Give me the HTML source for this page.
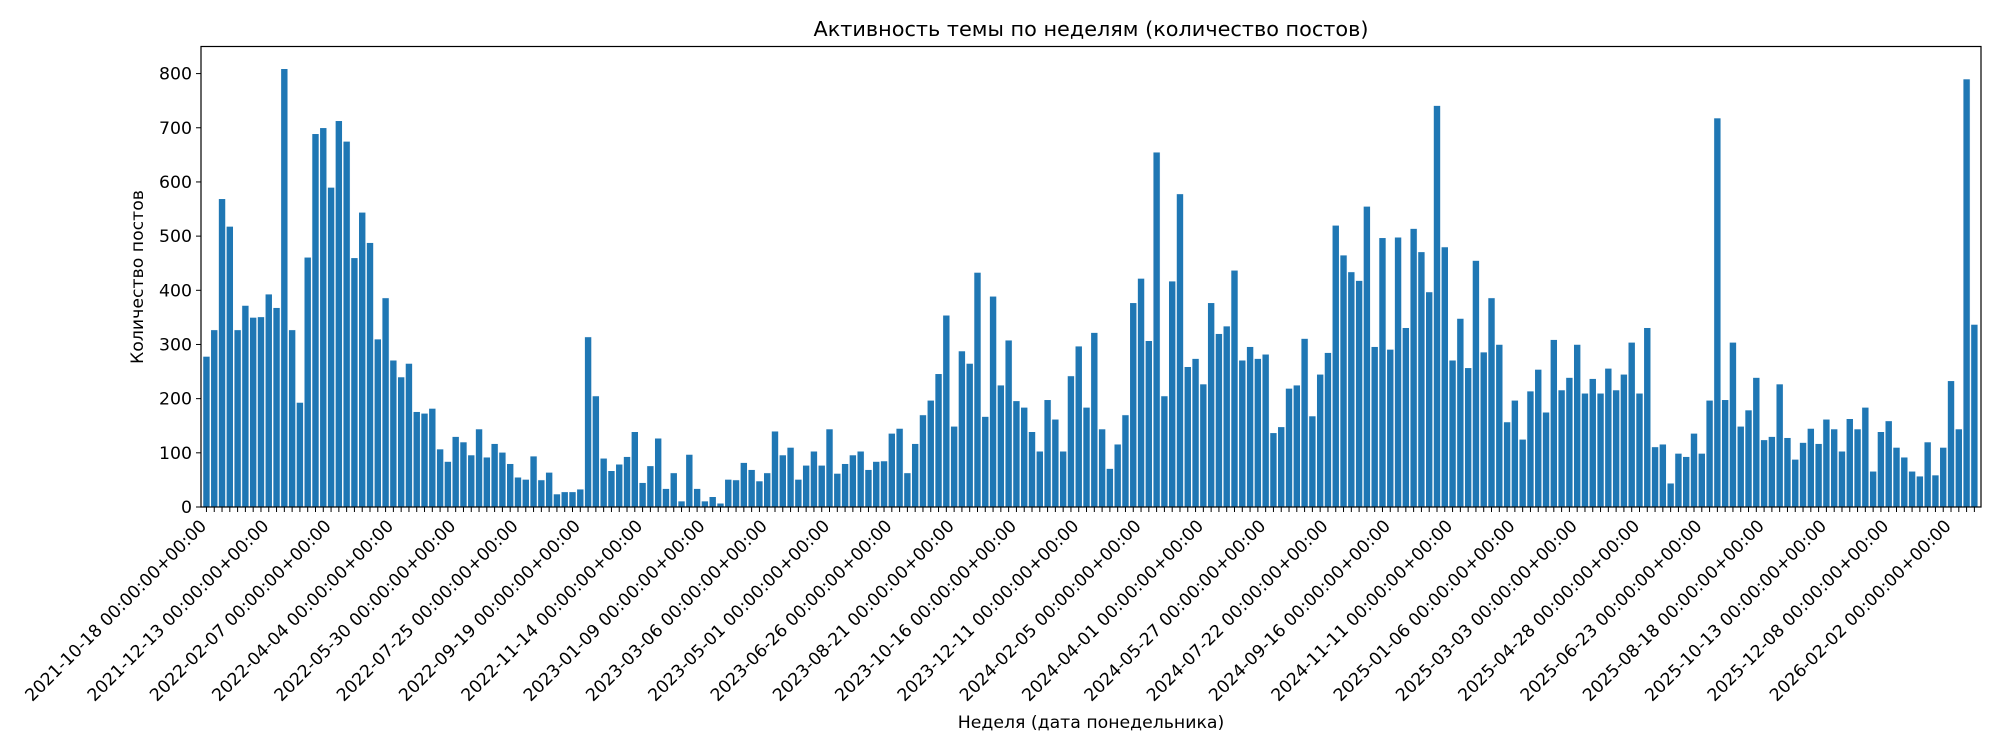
<!DOCTYPE html>
<html><head><meta charset="utf-8">
<style>
html,body{margin:0;padding:0;background:#fff;}
svg{display:block;font-family:"DejaVu Sans","Liberation Sans",sans-serif;}
</style></head>
<body>
<svg id="chart" width="2000" height="750" viewBox="0 0 2000 750" xmlns="http://www.w3.org/2000/svg">
<rect x="0" y="0" width="2000" height="750" fill="#fff"/>
<text x="1091" y="36" text-anchor="middle" font-size="20.8" fill="#000">Активность темы по неделям (количество постов)</text>
<g id="bars"></g>
<g id="xticks"></g>
<g id="yticks"></g>
<rect x="201" y="46.5" width="1780" height="460.5" fill="none" stroke="#000" stroke-width="1.2"/>
<text x="1091" y="728" text-anchor="middle" font-size="17.3" fill="#000">Неделя (дата понедельника)</text>
<text x="0" y="0" transform="translate(143,277) rotate(-90)" text-anchor="middle" font-size="17.3" fill="#000">Количество постов</text>
</svg>
<script>
const values = [278,327,569,518,327,372,350,351,393,368,809,327,193,461,689,700,590,713,675,460,544,488,310,386,271,240,265,176,173,182,107,84,130,120,96,144,92,117,101,80,55,51,94,50,64,24,28,28,33,314,205,90,67,79,93,139,45,76,
127,34,63,11,97,34,11,19,7,51,50,82,69,48,63,140,96,110,51,77,103,77,144,62,80,96,103,69,84,85,136,145,63,117,170,197,246,354,149,288,265,433,167,389,225,308,196,184,139,103,198,162,103,242,297,184,322,144,
71,116,170,377,422,307,655,205,417,578,259,274,227,377,320,334,437,271,296,274,282,137,148,219,225,311,168,245,285,520,465,434,418,555,296,497,291,498,331,514,471,397,741,480,271,348,257,455,286,386,300,157,197,125,214,254,175,
309,216,239,300,210,237,210,256,216,245,304,210,331,111,116,44,99,93,136,99,197,718,198,304,149,179,239,124,130,227,128,88,119,145,117,162,144,103,163,144,184,66,139,159,110,92,66,57,120,59,110,233,144,790,337];
const tickLabels = ["2021-10-18","2021-12-13","2022-02-07","2022-04-04","2022-05-30","2022-07-25","2022-09-19","2022-11-14","2023-01-09","2023-03-06","2023-05-01","2023-06-26","2023-08-21","2023-10-16","2023-12-11","2024-02-05","2024-04-01","2024-05-27","2024-07-22","2024-09-16","2024-11-11","2025-01-06","2025-03-03","2025-04-28","2025-06-23","2025-08-18","2025-10-13","2025-12-08","2026-02-02"];
const yTicks = [0,100,200,300,400,500,600,700,800];

const NS = "http://www.w3.org/2000/svg";
const L = 201, R = 1981, T = 46.5, B = 507;
const xMin = -0.7, xMax = 227.85, yMax = 850;
function xs(i){ return L + (i - xMin) / (xMax - xMin) * (R - L); }
function ys(v){ return B - v / yMax * (B - T); }
const pitch = xs(1) - xs(0);
const bw = pitch * 0.9;

const gb = document.getElementById('bars');
values.forEach((v, i) => {
  const r = document.createElementNS(NS, 'rect');
  r.setAttribute('x', xs(i) - bw / 2);
  r.setAttribute('y', ys(v));
  r.setAttribute('width', bw);
  r.setAttribute('height', B - ys(v));
  r.setAttribute('fill', '#1f77b4');
  r.setAttribute('stroke', '#ffffff');
  r.setAttribute('stroke-width', '0.6');
  
  
  gb.appendChild(r);
});

const gx = document.getElementById('xticks');
values.forEach((v, i) => {
  const t = document.createElementNS(NS, 'line');
  t.setAttribute('x1', xs(i)); t.setAttribute('x2', xs(i));
  t.setAttribute('y1', B); t.setAttribute('y2', B + 5);
  t.setAttribute('stroke', '#000'); t.setAttribute('stroke-width', '1');
  
  
  gx.appendChild(t);
});
tickLabels.forEach((lab, k) => {
  const i = k * 8;
  const x = xs(i) + 1, y = B + 20;
  const tx = document.createElementNS(NS, 'text');
  tx.setAttribute('x', x); tx.setAttribute('y', y);
  tx.setAttribute('text-anchor', 'end');
  tx.setAttribute('font-size', '17.3');
  tx.setAttribute('transform', 'rotate(-45 ' + x + ' ' + y + ')');
  tx.textContent = lab + ' 00:00:00+00:00';
  
  
  gx.appendChild(tx);
});

const gy = document.getElementById('yticks');
yTicks.forEach(v => {
  const t = document.createElementNS(NS, 'line');
  t.setAttribute('x1', L - 5); t.setAttribute('x2', L);
  t.setAttribute('y1', ys(v)); t.setAttribute('y2', ys(v));
  t.setAttribute('stroke', '#000'); t.setAttribute('stroke-width', '1');
  
  
  gy.appendChild(t);
  const tx = document.createElementNS(NS, 'text');
  tx.setAttribute('x', L - 9); tx.setAttribute('y', ys(v) + 6);
  tx.setAttribute('text-anchor', 'end');
  tx.setAttribute('font-size', '17.3');
  tx.textContent = v;
  
  
  gy.appendChild(tx);
});
</script>
</body></html>
